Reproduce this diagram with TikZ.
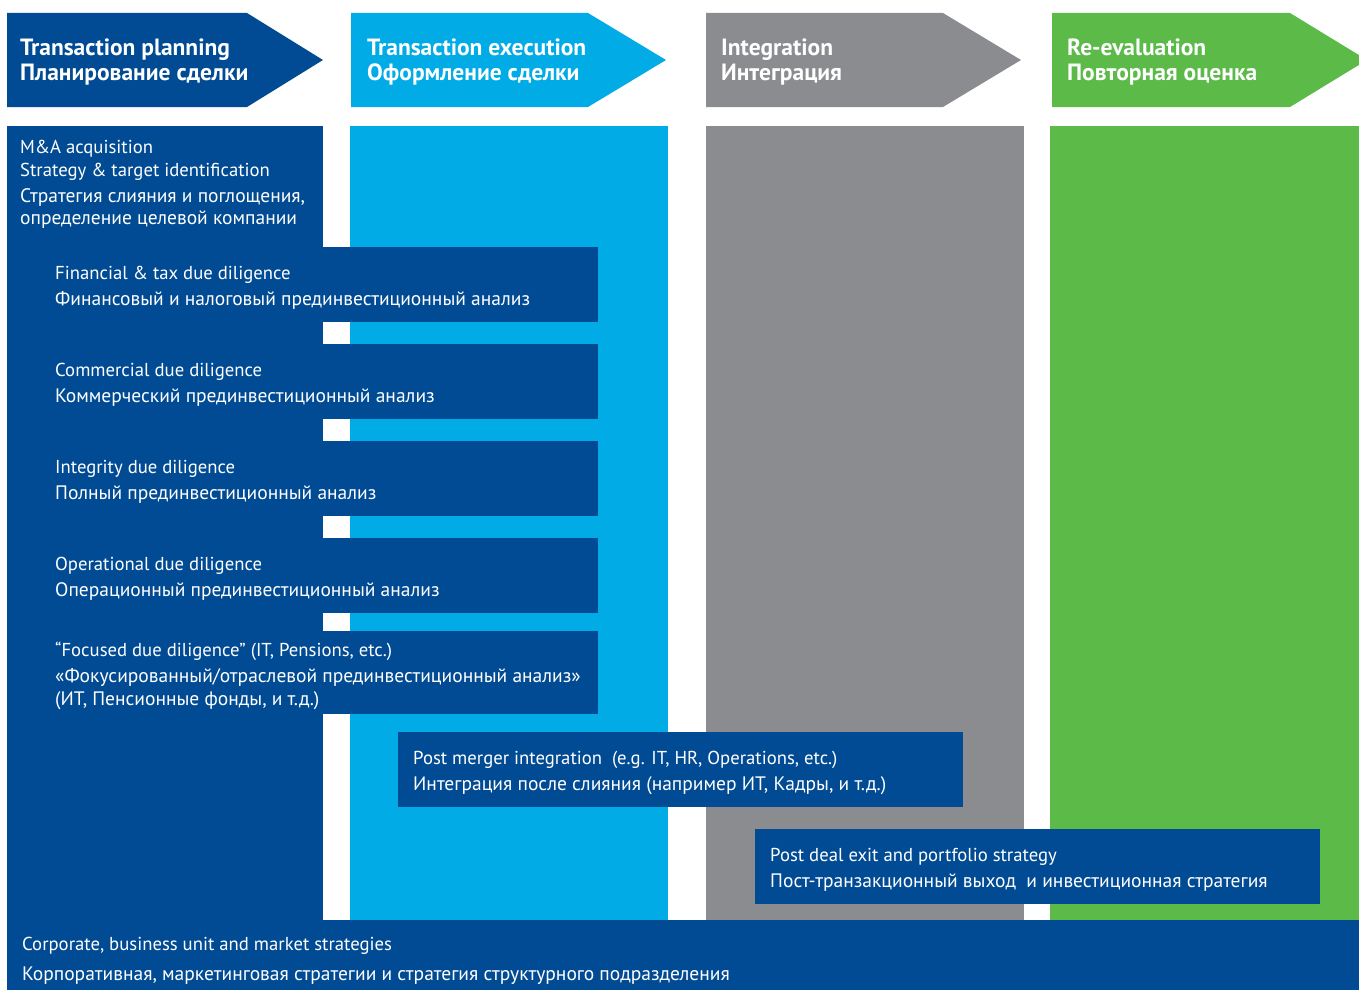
\documentclass[tikz,border=0pt]{standalone}
\usepackage{fontspec}
\setmainfont{PT Sans}
\definecolor{dkblue}{RGB}{0,75,147}
\definecolor{ltblue}{RGB}{0,171,230}
\definecolor{midgray}{RGB}{139,140,144}
\definecolor{leafgreen}{RGB}{91,186,72}
\begin{document}
\begin{tikzpicture}[x=1pt,y=-1pt,
  head/.style={anchor=base west,inner sep=0,text=white,font=\fontsize{23.5}{28}\selectfont\bfseries},
  body/.style={anchor=base west,inner sep=0,text=white,font=\fontsize{19.5}{24}\selectfont},
  en/.style={body,font=\fontsize{18.7}{24}\selectfont},
  panel/.style={fill=dkblue}]
\useasboundingbox (0,0) rectangle (1359,990);
\begin{scope}
\clip (0,0) rectangle (1359,990);
% phase arrows
\fill[dkblue]    (7,13)    -- (247,13)  -- (323,60)  -- (247,107)  -- (7,107)    -- cycle;
\fill[ltblue]    (351,13)  -- (588,13)  -- (666,60)  -- (588,107)  -- (351,107)  -- cycle;
\fill[midgray]   (706,13)  -- (943,13)  -- (1021,60) -- (943,107)  -- (706,107)  -- cycle;
\fill[leafgreen] (1052,13) -- (1290,13) -- (1367,60) -- (1290,107) -- (1052,107) -- cycle;
% columns
\fill[dkblue]    (7,126)    rectangle (323,920);
\fill[ltblue]    (350,126)  rectangle (668,920);
\fill[midgray]   (706,126)  rectangle (1024,920);
\fill[leafgreen] (1050,126) rectangle (1359,920);
% bottom band
\fill[dkblue] (7,920) rectangle (1359,990);
% due diligence panels
\fill[panel] (7,247) rectangle (598,322);
\fill[panel] (7,344) rectangle (598,419);
\fill[panel] (7,441) rectangle (598,516);
\fill[panel] (7,538) rectangle (598,613);
\fill[panel] (7,631) rectangle (598,714);
% later panels
\fill[panel] (398,732) rectangle (963,807);
\fill[panel] (755,829) rectangle (1320,904);
\end{scope}
% headers
\node[head] (h1a) at (20,56) {Transaction planning};
\node[head] (h1b) at (20,80) {Планирование сделки};
\node[head] (h2a) at (367,56) {Transaction execution};
\node[head] (h2b) at (367,80) {Оформление сделки};
\node[head] (h3a) at (721,56) {Integration};
\node[head] (h3b) at (721,80) {Интеграция};
\node[head] (h4a) at (1067,56) {Re-evaluation};
\node[head] (h4b) at (1067,80) {Повторная оценка};
% planning column
\node[en]   (ma1) at (20,153) {M\&A acquisition};
\node[en]   (ma2) at (20,176) {Strategy \& target identification};
\node[body] (ma3) at (20,202) {Стратегия слияния и поглощения,};
\node[body] (ma4) at (20,224) {определение целевой компании};
% due diligence
\node[en]   (fd1) at (55,279) {Financial \& tax due diligence};
\node[body] (fd2) at (55,305) {Финансовый и налоговый прединвестиционный анализ};
\node[en]   (cd1) at (55,376) {Commercial due diligence};
\node[body] (cd2) at (55,402) {Коммерческий прединвестиционный анализ};
\node[en]   (id1) at (55,473) {Integrity due diligence};
\node[body] (id2) at (55,499) {Полный прединвестиционный анализ};
\node[en]   (od1) at (55,570) {Operational due diligence};
\node[body] (od2) at (55,596) {Операционный прединвестиционный анализ};
\node[en]   (fc1) at (55,656) {“Focused due diligence” (IT, Pensions, etc.)};
\node[body] (fc2) at (55,682) {«Фокусированный/отраслевой прединвестиционный анализ»};
\node[body] (fc3) at (55,705) {(ИТ, Пенсионные фонды, и т.д.)};
% integration
\node[en]   (pm1) at (413,764) {Post merger integration\ \ (e.g. IT, HR, Operations, etc.)};
\node[body] (pm2) at (413,790) {Интеграция после слияния (например ИТ, Кадры, и т.д.)};
\node[en]   (pd1) at (770,861) {Post deal exit and portfolio strategy};
\node[body] (pd2) at (770,887) {Пост-транзакционный выход\ \ и инвестиционная стратегия};
% corporate band
\node[en]   (cs1) at (22,950) {Corporate, business unit and market strategies};
\node[body] (cs2) at (22,980) {Корпоративная, маркетинговая стратегии и стратегия структурного подразделения};
\end{tikzpicture}
\end{document}
